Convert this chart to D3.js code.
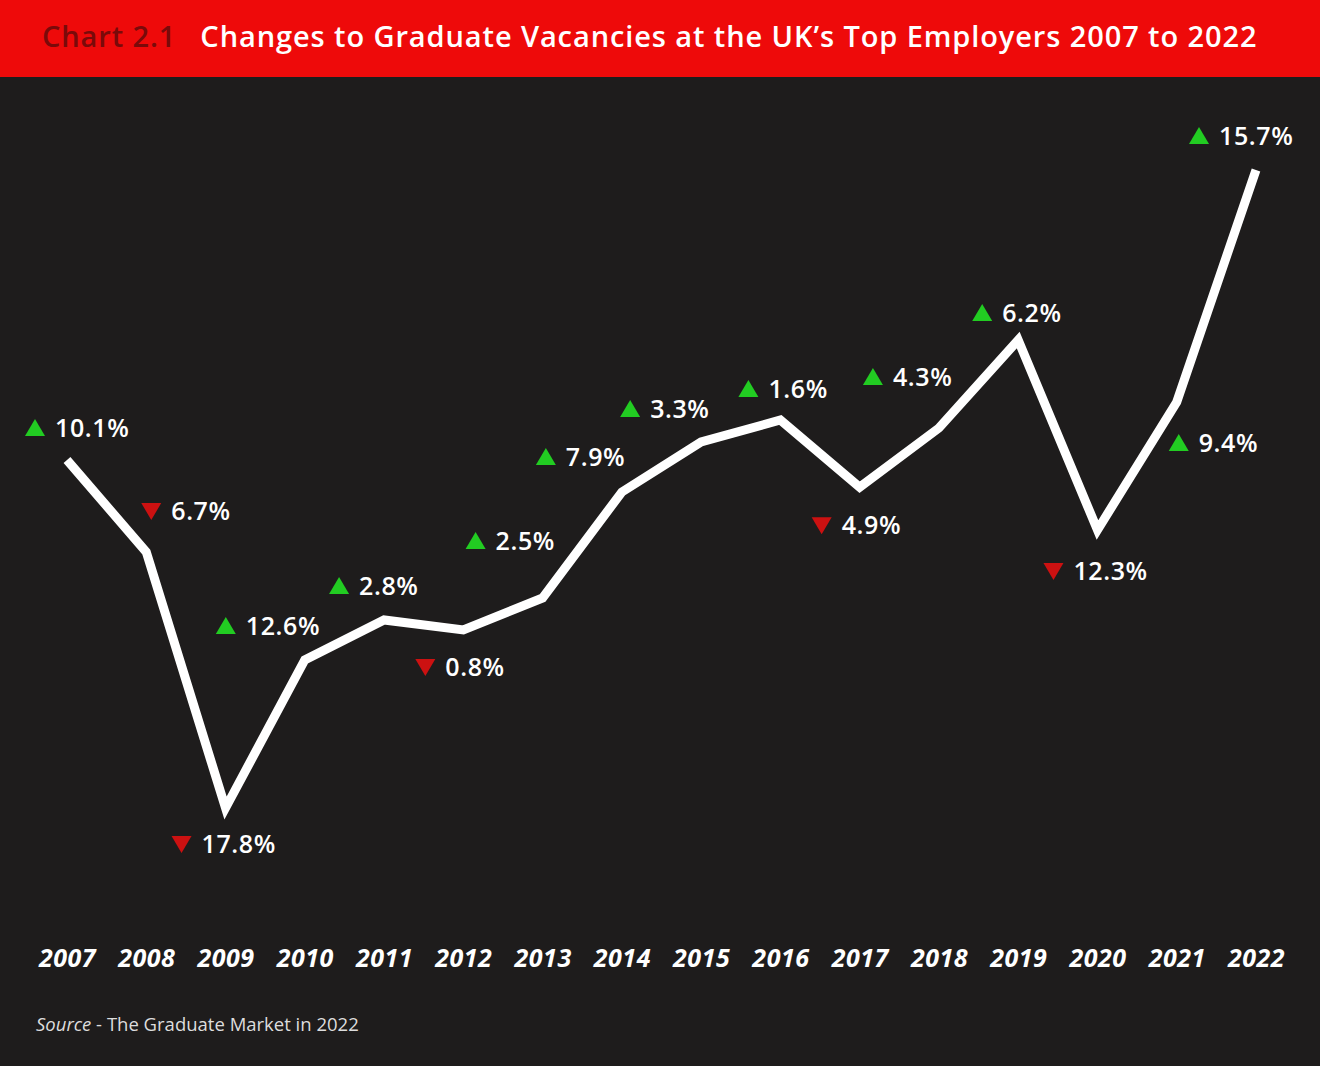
<!DOCTYPE html>
<html><head><meta charset="utf-8">
<script src="https://cdn.jsdelivr.net/npm/d3@7"></script>
<style>body{margin:0;background:#1e1c1c;}svg{display:block;}</style>
</head><body>
<svg id="c" width="1320" height="1066"></svg>
<script>
const years = ["2007","2008","2009","2010","2011","2012","2013","2014","2015","2016","2017","2018","2019","2020","2021","2022"];
const indexValues = [55,43.5,11.5,30,35,33.75,37.75,51,57.25,60,51.6,59,70,46.25,62.25,91.25];
const changeLabels = ["10.1%","6.7%","17.8%","12.6%","2.8%","0.8%","2.5%","7.9%","3.3%","1.6%","4.9%","4.3%","6.2%","12.3%","9.4%","15.7%"];
const changeUp = [true,false,false,true,true,false,true,true,true,true,false,true,true,false,true,true];
// layout: label offsets relative to each point
const labelOffsets = [[-32,-32],[5,-41],[-44,36],[-79,-34],[-45,-34],[-38,37],[-67,-57],[-76,-35],[-71,-33],[-32,-31],[-38,38],[-66,-51],[-36,-27],[-44,41],[2,41],[-57,-34]];

const svg = d3.select("#c");
svg.append("rect").attr("width",1320).attr("height",77).attr("fill","#ee0a0a");
const t = svg.append("text").attr("x",42).attr("y",47).attr("font-family","Open Sans").attr("font-weight",600).attr("font-size",29).attr("letter-spacing",0.9);
t.append("tspan").attr("fill","#7a0a0a").text("Chart 2.1");
t.append("tspan").attr("fill","#ffffff").attr("dx",24).text("Changes to Graduate Vacancies at the UK’s Top Employers 2007 to 2022");

const x = d3.scalePoint().domain(years).range([67,1256]);
const y = d3.scaleLinear().domain([0,100]).range([900,100]);

svg.append("path").datum(years.map((yr,i)=>[yr,indexValues[i]]))
  .attr("fill","none").attr("stroke","#fff").attr("stroke-width",9).attr("stroke-linejoin","miter")
  .attr("d", d3.line().x(d=>x(d[0])).y(d=>y(d[1])));

const lg = svg.append("g");
years.forEach((yr,i)=>{
  const cx = x(yr)+labelOffsets[i][0], cy = y(indexValues[i])+labelOffsets[i][1];
  const up = changeUp[i];
  const s = 10;
  const pts = up ? [[cx-s,cy+8],[cx+s,cy+8],[cx,cy-9]] : [[cx-s,cy-8],[cx+s,cy-8],[cx,cy+9]];
  lg.append("path").attr("d", d3.line()(pts)+"Z").attr("fill", up?"#22cc22":"#cc1111");
  lg.append("text").attr("x",cx+20).attr("y",cy+9).attr("fill","#fff")
    .attr("font-family","Open Sans").attr("font-weight",600).attr("font-size",25).attr("letter-spacing",0.6).text(changeLabels[i]);
});

const ax = svg.append("g").attr("transform","translate(0,949)").call(d3.axisBottom(x).tickSize(0).tickPadding(0));
ax.select(".domain").remove();
ax.selectAll("text").attr("fill","#fff").attr("font-family","Open Sans").attr("font-weight",700)
  .attr("font-style","italic").attr("font-size",25).attr("letter-spacing",0.5).attr("dy","0.71em");

const s = svg.append("text").attr("x",36).attr("y",1031).attr("fill","#ddd").attr("font-family","Open Sans").attr("font-size",18.5);
s.append("tspan").attr("font-style","italic").text("Source");
s.append("tspan").text(" - The Graduate Market in 2022");
</script>
</body></html>
